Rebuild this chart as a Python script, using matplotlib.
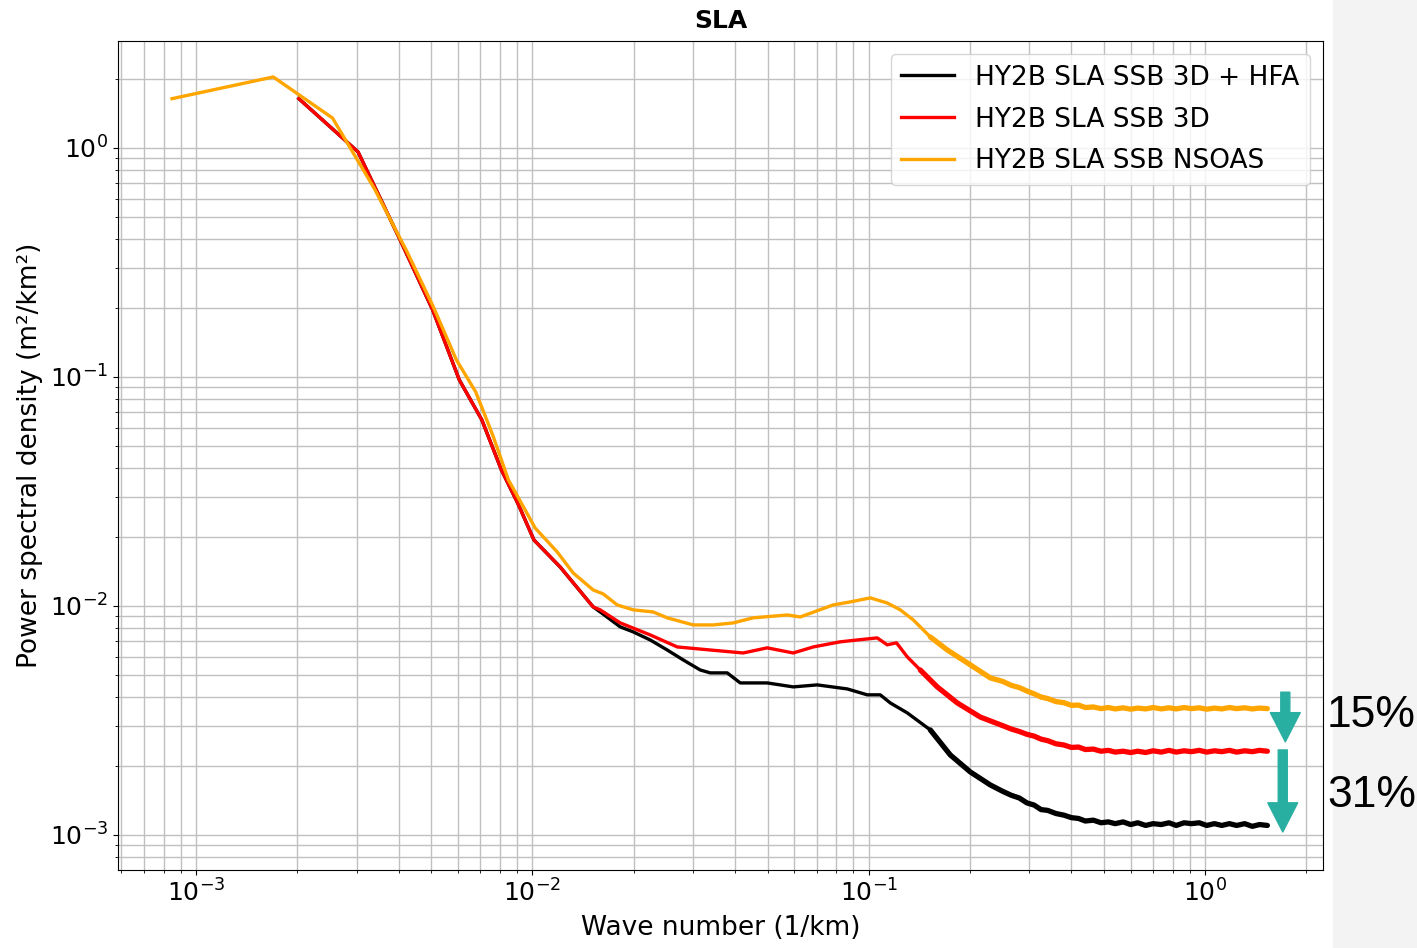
import matplotlib
matplotlib.use("Agg")
import matplotlib.pyplot as plt
from matplotlib.patches import Rectangle

# low wavenumber part
k_black = [2.02e-3, 3.03e-3, 4.04e-3, 5.05e-3, 6.06e-3, 7.07e-3, 8.08e-3, 9.09e-3, 1.01e-2,
           1.208e-2, 1.515e-2, 0.0159, 0.01823, 0.01993, 0.02239, 0.02515, 0.02806, 0.03153,
           0.03376, 0.03793, 0.04146, 0.04986, 0.05959, 0.07024, 0.08627, 0.0989, 0.1081,
           0.1158, 0.1301, 0.1523, 0.1746, 0.2002, 0.2296]
psd_black = [1.64, 0.96, 0.397, 0.196, 0.097, 0.0649, 0.0393, 0.0276, 0.0194,
             0.0148, 0.0099, 0.00941, 0.0081, 0.0077, 0.0071, 0.00642, 0.00581, 0.00525,
             0.0051, 0.0051, 0.00461, 0.00461, 0.00443, 0.00452, 0.00434, 0.00409, 0.00409,
             0.00377, 0.00341, 0.002874, 0.002235, 0.001884, 0.001653]

k_red = [2.02e-3, 3.03e-3, 4.04e-3, 5.05e-3, 6.06e-3, 7.07e-3, 8.08e-3, 9.09e-3, 1.01e-2,
         1.208e-2, 1.515e-2, 0.0159, 0.01823, 0.02239, 0.02694, 0.03376, 0.04231, 0.04986,
         0.05959, 0.06835, 0.08222, 0.09237, 0.1059, 0.1134, 0.1208, 0.1301, 0.1422, 0.1597,
         0.1832, 0.2145]
psd_red = [1.64, 0.96, 0.397, 0.196, 0.097, 0.0649, 0.0393, 0.0276, 0.0194,
           0.0148, 0.0099, 0.00961, 0.00843, 0.00747, 0.00662, 0.00642, 0.00623, 0.00656,
           0.00623, 0.00662, 0.00697, 0.0071, 0.00725, 0.00676, 0.0069, 0.00599, 0.00525, 0.00443,
           0.00377, 0.00327]

k_orange = [8.48e-4, 1.696e-3, 2.544e-3, 3.392e-3, 4.24e-3, 5.09e-3, 5.94e-3, 6.78e-3, 7.63e-3,
            8.48e-3, 9.33e-3, 1.018e-2, 0.01184, 0.01321, 0.01515, 0.01623, 0.01786, 0.01993,
            0.02285, 0.02515, 0.03005, 0.03446, 0.03952, 0.04532, 0.05719, 0.06252, 0.07834,
            0.08806, 0.101, 0.1134, 0.124, 0.1355, 0.1523, 0.1711, 0.1962, 0.2296]
psd_orange = [1.64, 2.04, 1.35, 0.662, 0.351, 0.200, 0.1186, 0.086, 0.0553,
              0.0355, 0.0276, 0.0219, 0.01721, 0.01393, 0.01174, 0.01128, 0.0101, 0.00961,
              0.00941, 0.00887, 0.00826, 0.00826, 0.00843, 0.00887, 0.00913, 0.00895, 0.0101,
              0.01041, 0.01084, 0.0103, 0.00961, 0.00869, 0.00732, 0.00642, 0.00564, 0.00485]

# noisy high wavenumber tail (drawn thicker, the real curves are a noisy band here)
k_tail = [0.25, 0.265, 0.28, 0.295, 0.31, 0.325, 0.34, 0.36, 0.38, 0.40, 0.42, 0.44,
          0.465, 0.49, 0.515, 0.54, 0.57, 0.60, 0.63, 0.665, 0.70, 0.74, 0.78, 0.82,
          0.865, 0.91, 0.96, 1.01, 1.065, 1.12, 1.18, 1.24, 1.31, 1.38, 1.45, 1.53]
tail_black = [0.00155, 0.00149, 0.00145, 0.00138, 0.00135, 0.00129, 0.00128, 0.00124, 0.00122,
              0.00119, 0.00118, 0.00115, 0.00116, 0.00113, 0.00114, 0.00112, 0.00114, 0.00111,
              0.00113, 0.00110, 0.00112, 0.00111, 0.00113, 0.00110, 0.00113, 0.00112, 0.00113,
              0.00110, 0.00112, 0.00110, 0.00112, 0.00110, 0.00112, 0.00109, 0.00111, 0.00110]
tail_red = [0.00300, 0.00290, 0.00283, 0.00275, 0.00270, 0.00262, 0.00258, 0.00250, 0.00247,
            0.00241, 0.00242, 0.00236, 0.00237, 0.00232, 0.00234, 0.00230, 0.00232, 0.00229,
            0.00232, 0.00229, 0.00233, 0.00230, 0.00234, 0.00230, 0.00233, 0.00231, 0.00234,
            0.00230, 0.00233, 0.00231, 0.00234, 0.00230, 0.00233, 0.00231, 0.00234, 0.00232]
tail_orange = [0.00468, 0.00450, 0.00440, 0.00425, 0.00413, 0.00400, 0.00394, 0.00382, 0.00378,
               0.00368, 0.00369, 0.00360, 0.00362, 0.00356, 0.00360, 0.00355, 0.00359, 0.00354,
               0.00358, 0.00355, 0.00360, 0.00355, 0.00359, 0.00355, 0.00360, 0.00356, 0.00359,
               0.00354, 0.00358, 0.00355, 0.00360, 0.00356, 0.00359, 0.00355, 0.00358, 0.00356]

labels = ["HY2B SLA SSB 3D + HFA", "HY2B SLA SSB 3D", "HY2B SLA SSB NSOAS"]
colors = ["black", "red", "orange"]
teal = "#29afa1"

fig = plt.figure(figsize=(14.17, 9.48), dpi=100)
fig.patches.append(Rectangle((1333 / 1417, 0), 84 / 1417, 1, transform=fig.transFigure,
                             color="#f3f3f3", zorder=-1))
ax = fig.add_axes([0.0833, 0.0823, 0.8504, 0.8745])

series = [(k_black, psd_black, tail_black), (k_red, psd_red, tail_red),
          (k_orange, psd_orange, tail_orange)]
for i, (k, p, t) in enumerate(series):
    ax.plot(k, p, color=colors[i], lw=2.4, label=labels[i], zorder=2 + i)
    # the noisy part gets a thicker stroke, starting from ~0.14 1/km
    hk = [kk for kk in k if kk > 0.14]
    hp = p[len(k) - len(hk):]
    ax.plot(hk + k_tail, hp + t, color=colors[i], lw=3.8, zorder=2 + i,
            solid_joinstyle="round", solid_capstyle="round")

ax.set_xscale("log")
ax.set_yscale("log")
ax.set_xlim(5.86e-4, 2.24)
ax.set_ylim(7.03e-4, 2.93)
ax.grid(True, which="both", color="#c0c0c0", lw=1.0)
ax.tick_params(labelsize=18)
ax.set_xlabel("Wave number (1/km)", fontsize=19, labelpad=6)
ax.set_ylabel("Power spectral density (m\u00b2/km\u00b2)", fontsize=19, labelpad=5)
ax.set_title("SLA", fontsize=18, fontweight="bold", pad=9)
ax.legend(loc="upper right", fontsize=19, labelspacing=0.6)

# reduction arrows
ax.annotate("", xy=(1.73, 0.00255), xytext=(1.73, 0.0042),
            arrowprops=dict(arrowstyle="simple,head_length=2.1,head_width=2.15,tail_width=0.65",
                            color=teal, shrinkA=0, shrinkB=0), annotation_clip=False)
ax.annotate("", xy=(1.70, 0.00103), xytext=(1.70, 0.00235),
            arrowprops=dict(arrowstyle="simple,head_length=2.1,head_width=2.15,tail_width=0.65",
                            color=teal, shrinkA=0, shrinkB=0), annotation_clip=False)
ax.text(2.3, 0.00331, "15%", fontsize=32, family="Liberation Sans", va="center", ha="left", clip_on=False)
ax.text(2.3, 0.00148, "31%", fontsize=32, family="Liberation Sans", va="center", ha="left", clip_on=False)

fig.savefig("out.png", dpi=100)
